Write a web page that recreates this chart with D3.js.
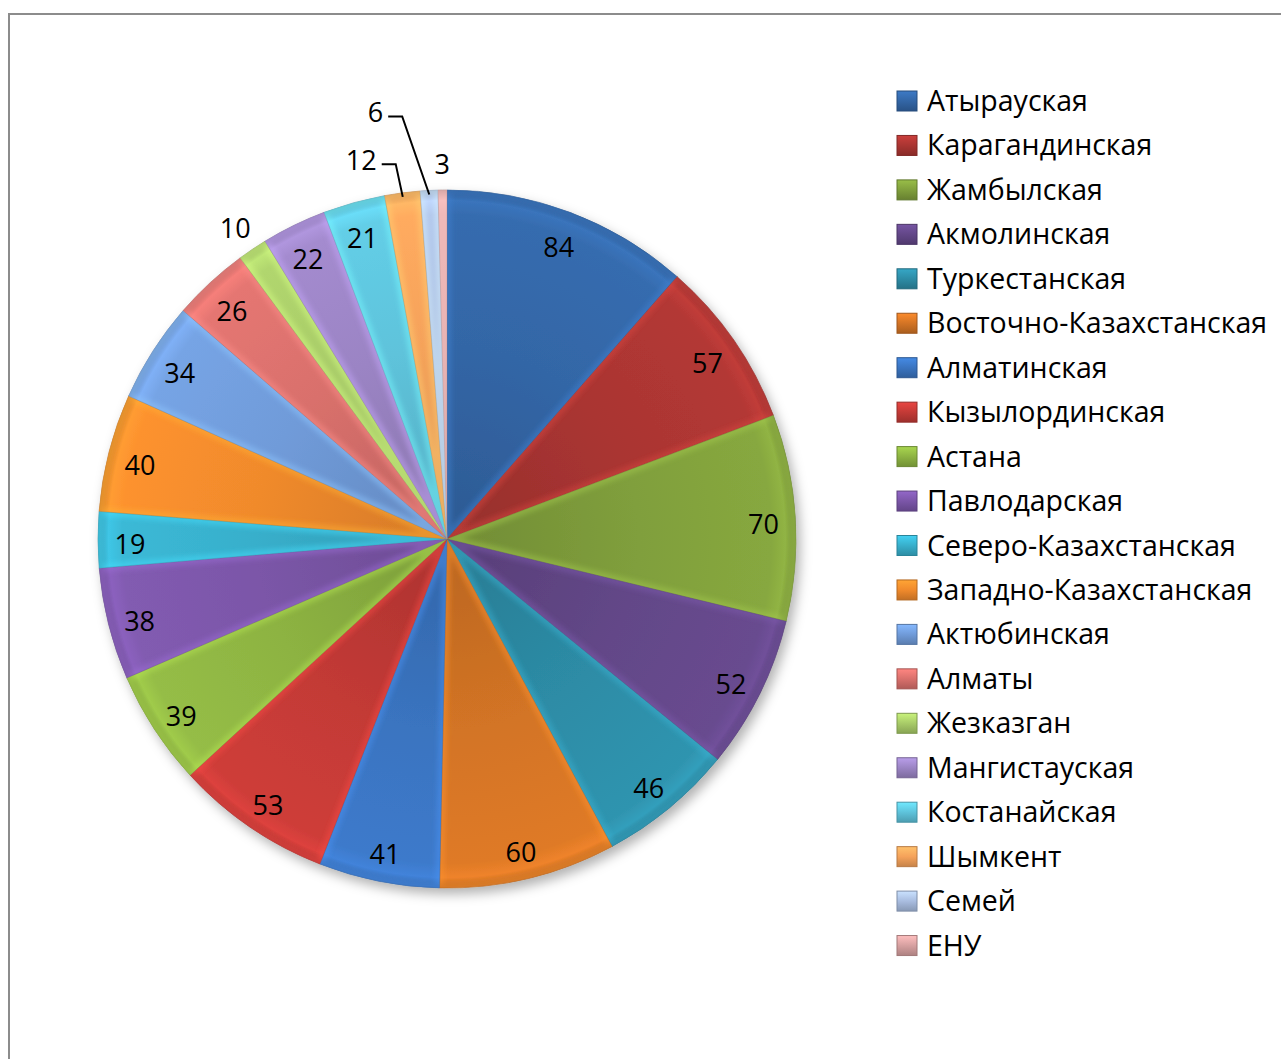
<!DOCTYPE html>
<html><head><meta charset="utf-8">
<script src="https://cdn.jsdelivr.net/npm/d3@7"></script>
<style>
html,body{margin:0;padding:0;background:#fff;overflow:hidden;}
svg{display:block;}
text{font-family:"Open Sans",Lato,sans-serif;fill:#000;}
</style></head>
<body>
<svg id="chart" width="1281" height="1059"></svg>
<script>
const categories = ["Атырауская","Карагандинская","Жамбылская","Акмолинская","Туркестанская","Восточно-Казахстанская","Алматинская","Кызылординская","Астана","Павлодарская","Северо-Казахстанская","Западно-Казахстанская","Актюбинская","Алматы","Жезказган","Мангистауская","Костанайская","Шымкент","Семей","ЕНУ"];
const values = [84,57,70,52,46,60,41,53,39,38,19,40,34,26,10,22,21,12,6,3];
const colors = ["#3366A6","#AA3532","#809F3C","#634788","#2D8CA6","#D37425","#3A74C0","#C33A36","#8DB342","#7B56A8","#38AFCB","#F08A2C","#709BD9","#D9706C","#A8CB68","#9B84C4","#5EC3DB","#F5A25A","#A9BDE0","#D6A0A0"];

const svg = d3.select("#chart");
const W = 1281, H = 1059;
const cx = 447, cy = 539, R = 349;

// frame
svg.append("rect").attr("x",9).attr("y",14).attr("width",W+20).attr("height",H+20)
  .attr("fill","#fff").attr("stroke","#8c8c8c").attr("stroke-width",2);

const defs = svg.append("defs");
const shadow = defs.append("filter").attr("id","shadow").attr("x","-20%").attr("y","-20%").attr("width","140%").attr("height","140%");
shadow.append("feDropShadow").attr("dx",4).attr("dy",6).attr("stdDeviation",6).attr("flood-color","#000").attr("flood-opacity",0.3);
const blur = defs.append("filter").attr("id","blur");
blur.append("feGaussianBlur").attr("stdDeviation",2.5);

colors.forEach((c,i)=>{
  const g = defs.append("radialGradient").attr("id","grad"+i)
    .attr("gradientUnits","userSpaceOnUse").attr("cx",0).attr("cy",0).attr("r",R);
  const base = d3.color(c);
  g.append("stop").attr("offset","0%").attr("stop-color",base.darker(0.35));
  g.append("stop").attr("offset","55%").attr("stop-color",base);
  g.append("stop").attr("offset","93%").attr("stop-color",base.brighter(0.15));
  g.append("stop").attr("offset","97%").attr("stop-color",base.brighter(0.35));
  g.append("stop").attr("offset","100%").attr("stop-color",base.darker(0.45));
  const lg = defs.append("linearGradient").attr("id","lgrad"+i).attr("x1",0).attr("y1",0).attr("x2",0).attr("y2",1);
  lg.append("stop").attr("offset","0%").attr("stop-color",base.brighter(0.5));
  lg.append("stop").attr("offset","50%").attr("stop-color",base);
  lg.append("stop").attr("offset","100%").attr("stop-color",base.darker(0.6));
});

const pie = d3.pie().sort(null).value(d=>d)(values);
const arc = d3.arc().innerRadius(0).outerRadius(R);
const labelArc = d3.arc().innerRadius(317).outerRadius(317);
const outerArc = d3.arc().innerRadius(380).outerRadius(380);
const rimArc = d3.arc().innerRadius(345).outerRadius(345);

const g = svg.append("g").attr("transform",`translate(${cx},${cy})`);
const slices = g.append("g").attr("filter","url(#shadow)");

pie.forEach((d,i)=>{
  defs.append("clipPath").attr("id","clip"+i).append("path").attr("d",arc(d));
});

slices.selectAll("path.slice").data(pie).join("path").attr("class","slice")
  .attr("d",arc).attr("fill",(d,i)=>`url(#grad${i})`)
  .attr("stroke",(d,i)=>d3.color(colors[i]).darker(0.8)).attr("stroke-width",0.8).attr("stroke-opacity",0.7);

// bevel highlight (inner edge glow)
g.append("g").selectAll("path.bevel").data(pie).join("path").attr("class","bevel")
  .attr("d",arc).attr("fill","none")
  .attr("clip-path",(d,i)=>`url(#clip${i})`)
  .attr("stroke",(d,i)=>d3.color(colors[i]).brighter(0.7)).attr("stroke-width",9)
  .attr("stroke-opacity",0.45).attr("filter","url(#blur)");

// labels
const smallLimit = 15;
const leaderOffsets = {17:[-37,-7], 18:[-52,-52]};
const labelsG = g.append("g");
const LDY = 4;
pie.forEach((d,i)=>{
  const v = values[i];
  if (v >= smallLimit){
    const [x,y] = labelArc.centroid(d);
    labelsG.append("text").attr("x",x).attr("y",y+LDY).attr("text-anchor","middle")
      .attr("dominant-baseline","central").attr("font-size",27).text(v);
  } else {
    let [x,y] = outerArc.centroid(d);
    const off = leaderOffsets[i];
    if (off){ x += off[0]; y += off[1]; }
    const t = labelsG.append("text").attr("x",x).attr("y",y+LDY).attr("text-anchor","middle")
      .attr("dominant-baseline","central").attr("font-size",27).text(v);
    if (off){
      const w = t.node().getComputedTextLength();
      const [rx,ry] = rimArc.centroid(d);
      const sx = x + w/2 + 5, sy = y + 9;
      labelsG.append("path").attr("d",d3.line()([[sx,sy],[sx+14,sy],[rx,ry]]))
        .attr("fill","none").attr("stroke","#000").attr("stroke-width",2);
    }
  }
});

// legend
const legend = svg.append("g").attr("transform","translate(897,101)");
const items = legend.selectAll("g").data(categories).join("g")
  .attr("transform",(d,i)=>`translate(0,${i*44.45})`);
items.append("rect").attr("x",0).attr("y",-10).attr("width",20).attr("height",20)
  .attr("fill",(d,i)=>`url(#lgrad${i})`).attr("stroke",(d,i)=>d3.color(colors[i]).darker(0.8)).attr("stroke-width",1);
items.append("text").attr("x",30).attr("y",10)
  .attr("font-size",28.5).attr("fill","#1a1a1a").text(d=>d);
</script>
</body></html>
